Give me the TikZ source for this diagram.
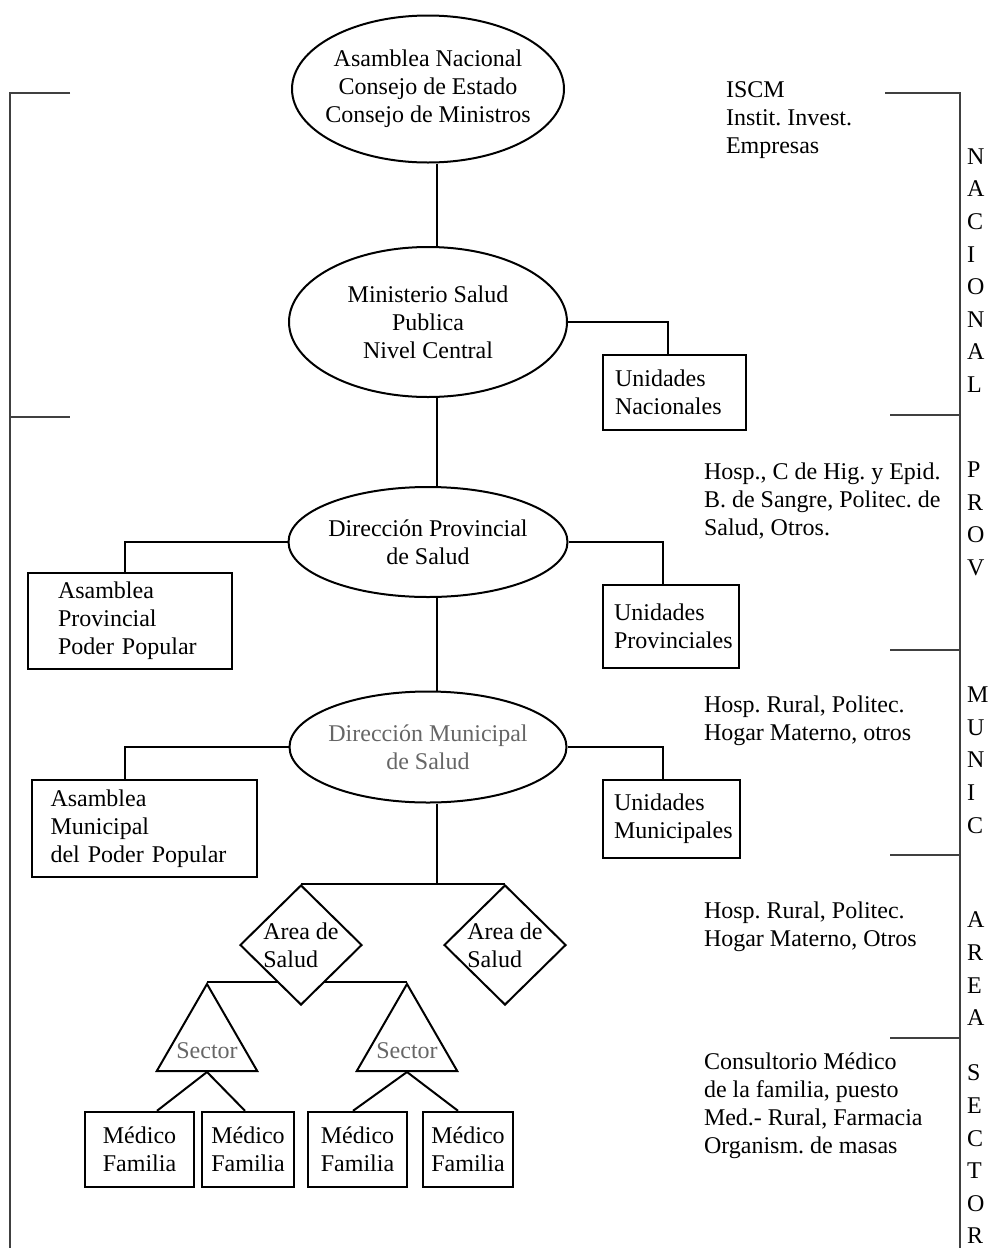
\documentclass[tikz,border=0pt]{standalone}
\usepackage{fontspec}
\setmainfont{Liberation Serif}
\usetikzlibrary{shapes.geometric, backgrounds}
\colorlet{tenue}{black!60}

\begin{document}
\frenchspacing
\begin{tikzpicture}[x=0.5pt, y=-0.5pt, line width=1pt, font=\fontsize{12}{14}\selectfont,
    nivel/.style={draw, ellipse, inner sep=0pt},
    unidad/.style={draw, line width=1.2pt, align=left, inner ysep=0pt},
    medico/.style={draw, line width=1.2pt, align=center, minimum height=37.5pt, inner sep=0pt},
    area/.style={draw, diamond, fill=white, minimum width=61pt, minimum height=60pt, inner sep=0pt},
    sector/.style={draw, regular polygon, regular polygon sides=3, minimum size=58pt, inner sep=0pt},
    nota/.style={anchor=north west, align=left, inner sep=0pt},
    letras/.style={anchor=north west, align=left, inner sep=0pt, font=\fontsize{12}{16.3}\selectfont},
    marco/.style={black!75}]
    \useasboundingbox (0,0) rectangle (998,1248);

    % niveles
    \node[nivel, minimum width=136pt, minimum height=73.5pt,
      label={[align=center]center:Asamblea Nacional\\Consejo de Estado\\Consejo de Ministros}] (asamblea) at (428,89) {};
    \node[nivel, minimum width=139pt, minimum height=75pt,
      label={[align=center]center:Ministerio Salud\\Publica\\Nivel Central}] (ministerio) at (428,322) {};
    \node[nivel, minimum width=139.5pt, minimum height=55pt,
      label={[align=center]center:Dirección Provincial\\de Salud}] (dirprov) at (428,542) {};
    \node[nivel, minimum width=138.5pt, minimum height=55.5pt,
      label={[align=center, text=tenue]center:Dirección Municipal\\de Salud}] (dirmun) at (428,747) {};

    % unidades y asambleas
    \node[unidad, text width=59.5pt, inner xsep=6pt, minimum height=37.5pt] (unidnac) at (674.5,392.5) {Unidades\\Nacionales};
    \node[unidad, text width=57pt, inner xsep=5.5pt, minimum height=41.5pt] (unidprov) at (671,626.5) {Unidades\\Provinciales};
    \node[unidad, text width=57.5pt, inner xsep=5.5pt, minimum height=39pt] (unidmun) at (671.5,819) {Unidades\\Municipales};
    \node[unidad, text width=72pt, inner xsep=15pt, minimum height=48pt] (asprov) at (130,621) {Asamblea\\Provincial\\Poder Popular};
    \node[unidad, text width=94pt, inner xsep=9.25pt, minimum height=48.5pt] (asmun) at (144.5,828.5) {Asamblea\\Municipal\\del Poder Popular};

    % areas, sectores, medicos
    \node[area, label={[align=left]center:Area de\\Salud}] (area1) at (301,945) {};
    \node[area, label={[align=left]center:Area de\\Salud}] (area2) at (505,945) {};
    \node[sector, label={[text=tenue, yshift=-4.5pt]center:Sector}] (sector1) at (207,1042) {};
    \node[sector, label={[text=tenue, yshift=-4.5pt]center:Sector}] (sector2) at (407,1042) {};
    \foreach \i/\x/\w in {1/139.5/54.5pt, 2/248/46pt, 3/357.5/49.5pt, 4/468/45pt}
      \node[medico, minimum width=\w] (med\i) at (\x,1149.5) {Médico\\Familia};

    % conexiones
    \draw ([xshift=4.5pt]asamblea.south) -- ([xshift=4.5pt]ministerio.north);
    \draw ([xshift=4.5pt]ministerio.south) -- ([xshift=4.5pt]dirprov.north);
    \draw ([xshift=4.5pt]dirprov.south) -- ([xshift=4.5pt]dirmun.north);
    \draw (ministerio.east) -| ([xshift=-3.25pt]unidnac.north);
    \draw (dirprov.west) -| ([xshift=-2.5pt]asprov.north);
    \draw (dirprov.east) -| ([xshift=-4pt]unidprov.north);
    \draw (dirmun.west) -| ([xshift=-9.75pt]asmun.north);
    \draw (dirmun.east) -| ([xshift=-4.25pt]unidmun.north);
    \draw ([xshift=4.5pt]dirmun.south) -- ([xshift=4.5pt]dirmun.south |- area1.north);
    \draw (area1.north) -- (area2.north);
    \begin{scope}[on background layer]
      \draw[line width=1pt] (sector1.north) -- (sector2.north);
    \end{scope}
    \foreach \s/\m/\d in {1/1/8.75pt, 1/2/-1.5pt, 2/3/-2.25pt, 2/4/-5pt}
      \draw (sector\s.south) -- ([xshift=\d]med\m.north);

    % marcos de nivel
    \draw[marco] (70,93) -- (10,93) -- (10,1248);
    \draw[marco] (10,417) -- (70,417);
    \draw[marco] (885,93) -- (960,93) -- (960,1248);
    \foreach \y in {415,650,855,1038}
      \draw[marco] (890,\y) -- (960,\y);

    % notas
    \node[nota] (iscm) at (725,81) {ISCM\\Instit. Invest.\\Empresas};
    \node[nota] (notaprov) at (703,462) {Hosp., C de Hig. y Epid.\\B. de Sangre, Politec. de\\Salud, Otros.};
    \node[nota] (notamun) at (703,695) {Hosp. Rural, Politec.\\Hogar Materno, otros};
    \node[nota] (notaarea) at (703,901) {Hosp. Rural, Politec.\\Hogar Materno, Otros};
    \node[nota] (notasector) at (703,1052) {Consultorio Médico\\de la familia, puesto\\Med.- Rural, Farmacia\\Organism. de masas};

    \node[letras] (nacional) at (966,147.5) {N\\A\\C\\I\\O\\N\\A\\L};
    \node[letras] (prov) at (966,461) {P\\R\\O\\V};
    \node[letras] (munic) at (966,686) {M\\U\\N\\I\\C};
    \node[letras] (arealet) at (966,911) {A\\R\\E\\A};
    \node[letras] (sectorlet) at (966,1064) {S\\E\\C\\T\\O\\R};
\end{tikzpicture}
\end{document}
